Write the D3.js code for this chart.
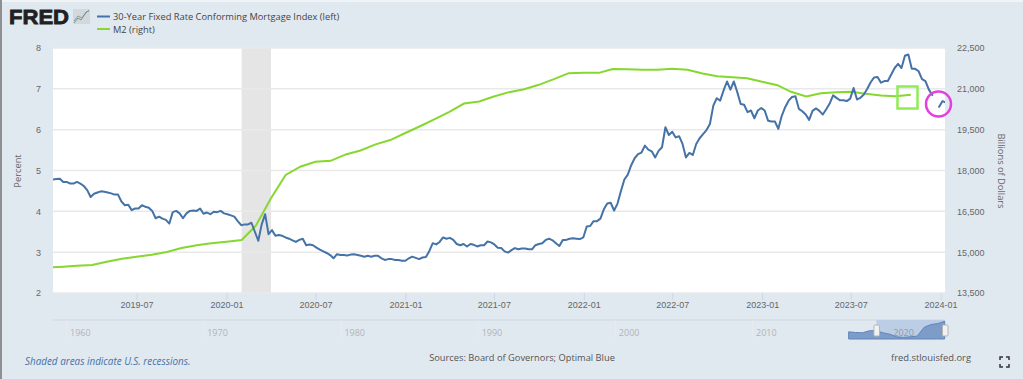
<!DOCTYPE html>
<html>
<head>
<meta charset="utf-8">
<script src="https://cdnjs.cloudflare.com/ajax/libs/d3/7.8.5/d3.min.js"></script>
<style>
  html, body { margin: 0; padding: 0; background: #e1e9f0; overflow: hidden; }
  svg { display: block; font-family: "Open Sans", sans-serif; }
  .tick text { fill: #666; font-size: 9px; }
  .domain { display: none; }
</style>
</head>
<body>
<svg width="1023" height="379"></svg>
<script>
// 30-year rate, one reading per week from the start date (null = gap in the line)
const mortgageStart = '2019-01-11'
const mortgage = [
  4.78,4.79,4.80,4.72,4.72,4.68,4.68,4.72,4.68,4.62,4.52,4.35,4.43,4.46,4.49,4.48,4.46,4.44,4.41,4.41,
  4.24,4.15,4.16,4.03,4.07,4.07,4.15,4.11,4.09,4.01,3.83,3.87,3.82,3.79,3.70,3.98,4.01,3.95,3.83,3.95,
  4.01,4.02,4.01,4.07,3.94,3.97,3.93,3.99,3.98,4.01,3.95,3.93,3.90,3.87,3.76,3.66,3.68,3.68,3.72,3.50,
  3.28,3.68,3.93,3.44,3.54,3.40,3.42,3.40,3.36,3.33,3.29,3.25,3.30,3.33,3.17,3.19,3.17,3.11,3.06,3.02,
  2.98,2.93,2.85,2.95,2.93,2.93,2.92,2.94,2.95,2.93,2.91,2.89,2.91,2.89,2.91,2.91,2.85,2.81,2.83,2.83,
  2.81,2.81,2.79,2.79,2.85,2.89,2.86,2.83,2.87,2.88,3.03,3.22,3.19,3.25,3.36,3.33,3.35,3.30,3.20,3.17,
  3.20,3.14,3.20,3.18,3.14,3.17,3.17,3.26,3.24,3.19,3.11,3.10,3.02,2.99,3.05,3.10,3.07,3.09,3.09,3.07,
  3.07,3.17,3.20,3.22,3.30,3.33,3.29,3.22,3.15,3.30,3.30,3.33,3.34,3.33,3.32,3.36,3.63,3.64,3.76,3.76,
  3.82,4.05,4.19,4.21,4.02,4.19,4.50,4.78,4.90,5.13,5.30,5.40,5.44,5.61,5.51,5.47,5.32,5.48,5.57,6.06,
  5.87,5.95,5.81,5.84,5.65,5.32,5.43,5.38,5.65,5.79,5.89,5.99,6.14,6.59,6.77,6.71,6.96,7.18,6.98,7.18,
  6.92,6.63,6.61,6.43,6.47,6.28,6.47,6.53,6.47,6.22,6.20,6.20,6.02,6.34,6.55,6.71,6.80,6.82,6.51,6.45,
  6.37,6.24,6.46,6.52,6.46,6.37,6.50,6.64,6.84,6.78,6.72,6.72,6.70,6.76,7.02,6.74,6.78,6.86,7.00,7.16,
  7.28,7.29,7.15,7.19,7.19,7.35,7.51,7.61,7.51,7.81,7.84,7.49,7.49,7.43,7.24,7.19,6.98,6.85,null,6.56,
  6.70,6.66
]

// M2, monthly
const m2Dates = [
  '2019-01','2019-02','2019-03','2019-04','2019-05','2019-06','2019-07','2019-08','2019-09','2019-10','2019-11','2019-12',
  '2020-01','2020-02','2020-03','2020-04','2020-05','2020-06','2020-07','2020-08','2020-09','2020-10','2020-11','2020-12',
  '2021-01','2021-02','2021-03','2021-04','2021-05','2021-06','2021-07','2021-08','2021-09','2021-10','2021-11','2021-12',
  '2022-01','2022-02','2022-03','2022-04','2022-05','2022-06','2022-07','2022-08','2022-09','2022-10','2022-11','2022-12',
  '2023-01','2023-02','2023-03','2023-04','2023-05','2023-06','2023-07','2023-08','2023-09','2023-10','2023-11'
]
const m2 = [
  14430,14467,14505,14530,14650,14760,14835,14908,15007,15154,15253,15326,
  15386,15448,15973,16980,17835,18147,18319,18356,18590,18737,18960,19119,
  19377,19635,19880,20155,20461,20535,20718,20878,20988,21147,21355,21575,
  21587,21587,21725,21722,21698,21698,21734,21698,21563,21465,21428,21392,
  21257,21135,20890,20718,20841,20878,20890,20816,20755,20730,20780
]

// navigator overview
const navDates = ['2017-01','2017-07','2018-01','2018-07','2019-01','2019-07','2020-01','2020-07','2021-01','2021-07','2022-01','2022-07','2023-01','2023-07','2024-01']
const navValues = [4.53,4.33,4.23,4.84,4.94,4.23,3.8,3.0,2.8,3.0,3.2,5.9,6.8,7.1,7.8]
const navYears = ['1960','1970','1980','1990','2000','2010','2020']

const xTicks = ['2019-07','2020-01','2020-07','2021-01','2021-07','2022-01','2022-07','2023-01','2023-07','2024-01']
const leftTicks = [2,3,4,5,6,7,8]
const rightTicks = [13500,15000,16500,18000,19500,21000,22500]
const recession = ['2020-02','2020-04']

const svg = d3.select('svg')
const parseMonth = d3.utcParse('%Y-%m')
const parseDay = d3.utcParse('%Y-%m-%d')
const parseYear = d3.utcParse('%Y')

const margin = {top: 48, right: 78, bottom: 86, left: 53}
const w = +svg.attr('width')
const h = +svg.attr('height')
const bottom = h - margin.bottom
const right = w - margin.right

const xScale = d3.scaleUtc()
  .domain([parseDay('2019-01-11'), parseDay('2024-01-10')])
  .range([margin.left, right])
const yLeft = d3.scaleLinear().domain([2, 8]).range([bottom, margin.top])
const yRight = d3.scaleLinear().domain([13500, 22500]).range([bottom, margin.top])

// frame strips
svg.append('rect').attr('width', w).attr('height', 2).attr('fill', '#f1f4f7')
svg.append('rect').attr('width', 2).attr('height', h).attr('fill', '#8d8f92')

svg.append('clipPath').attr('id', 'plot').append('rect')
  .attr('x', margin.left).attr('y', margin.top)
  .attr('width', right - margin.left).attr('height', bottom - margin.top)

svg.append('rect')
  .attr('x', margin.left).attr('y', margin.top)
  .attr('width', right - margin.left).attr('height', bottom - margin.top)
  .attr('fill', '#fff')

svg.append('rect')
  .attr('x', xScale(parseMonth(recession[0])))
  .attr('y', margin.top)
  .attr('width', xScale(parseMonth(recession[1])) - xScale(parseMonth(recession[0])))
  .attr('height', bottom - margin.top)
  .attr('fill', '#e5e5e5')

svg.append('g').selectAll('line').data(leftTicks).enter().append('line')
  .attr('x1', margin.left).attr('x2', right)
  .attr('y1', d => yLeft(d)).attr('y2', d => yLeft(d))
  .attr('stroke', '#e9e9e9').attr('stroke-width', 1.5)

// axes
svg.append('g')
  .attr('transform', `translate(0, ${bottom})`)
  .call(d3.axisBottom(xScale)
    .tickValues(xTicks.map(parseMonth))
    .tickFormat(d3.utcFormat('%Y-%m'))
    .tickSize(7).tickPadding(2))
  .call(g => g.selectAll('.tick line').attr('stroke', '#ccd6eb'))

svg.append('g')
  .attr('transform', `translate(${margin.left - 12}, 0)`)
  .call(d3.axisLeft(yLeft).tickValues(leftTicks).tickFormat(d3.format('d')).tickSize(0).tickPadding(0))

svg.append('g')
  .attr('transform', `translate(${right + 8}, 0)`)
  .call(d3.axisRight(yRight).tickValues(rightTicks).tickFormat(d3.format(',')).tickSize(0).tickPadding(4))

svg.append('text').text('Percent')
  .attr('transform', `translate(21, 171) rotate(-90)`)
  .attr('text-anchor', 'middle').attr('fill', '#666').attr('font-size', 9.3)

svg.append('text').text('Billions of Dollars')
  .attr('transform', `translate(998, 171) rotate(90)`)
  .attr('text-anchor', 'middle').attr('fill', '#666').attr('font-size', 9.3)

// series
const start = parseDay(mortgageStart)
const mortgageData = mortgage.map((v, i) => ({date: d3.utcDay.offset(start, i * 7), v}))
const m2Data = m2.map((v, i) => ({date: parseMonth(m2Dates[i]), v}))

const plot = svg.append('g').attr('clip-path', 'url(#plot)')

plot.append('path').datum(m2Data)
  .attr('fill', 'none').attr('stroke', '#86d72f').attr('stroke-width', 2)
  .attr('d', d3.line().x(d => xScale(d.date)).y(d => yRight(d.v)))

plot.append('path').datum(mortgageData)
  .attr('fill', 'none').attr('stroke', '#4572a7').attr('stroke-width', 2)
  .attr('stroke-linejoin', 'round').attr('stroke-linecap', 'round')
  .attr('d', d3.line().defined(d => d.v !== null).x(d => xScale(d.date)).y(d => yLeft(d.v)))

// annotations drawn over the chart
svg.append('rect')
  .attr('x', 897.5).attr('y', 86.5).attr('width', 20).attr('height', 22)
  .attr('fill', 'none').attr('stroke', '#8eec55').attr('stroke-width', 2.5)
svg.append('circle')
  .attr('cx', 938.5).attr('cy', 104).attr('r', 12.5)
  .attr('fill', 'none').attr('stroke', '#e43fe0').attr('stroke-width', 2.5)

// logo
svg.append('text').text('FRED')
  .attr('x', 9).attr('y', 24)
  .attr('font-family', '"Liberation Sans", Arial, sans-serif')
  .attr('font-weight', 700).attr('font-size', 20)
  .attr('textLength', 60).attr('lengthAdjust', 'spacingAndGlyphs')
  .attr('fill', '#231f20').attr('stroke', '#231f20').attr('stroke-width', 0.8)
svg.append('rect').attr('x', 73).attr('y', 9).attr('width', 17).attr('height', 15).attr('fill', '#d4d8dc')
svg.append('path').attr('d', 'M74 23L78 18L81 20L85 14L89 10')
  .attr('fill', 'none').attr('stroke', '#7d9a6a').attr('stroke-width', 1)
svg.append('path').attr('d', 'M74 21L78 16L82 18L86 12L89 11')
  .attr('fill', 'none').attr('stroke', '#6c8cb4').attr('stroke-width', 0.8)

// legend
const legendNames = ['30-Year Fixed Rate Conforming Mortgage Index (left)', 'M2 (right)']
const legendColors = ['#4572a7', '#86d72f']
const legend = svg.append('g').selectAll('g').data(legendNames).enter().append('g')
  .attr('transform', (d, i) => `translate(97, ${16.5 + i * 12.5})`)
legend.append('line').attr('x2', 13).attr('stroke', (d, i) => legendColors[i]).attr('stroke-width', 2)
legend.append('text').text(d => d)
  .attr('x', 16).attr('y', 3.5).attr('font-size', 9.3).attr('fill', '#444')

// navigator
const navTop = 320
const navBottom = 339
const xNav = d3.scaleUtc()
  .domain([parseYear('1960'), parseDay('2024-01-10')])
  .range([66.5, right])
const yNav = d3.scaleLinear().domain([2.3, 7.9]).range([navBottom, 321])

svg.append('line')
  .attr('x1', margin.left).attr('x2', right).attr('y1', navTop).attr('y2', navTop)
  .attr('stroke', '#d5dde5').attr('stroke-width', 1.5)

const navYearG = svg.append('g').selectAll('g').data(navYears).enter().append('g')
  .attr('transform', d => `translate(${xNav(parseYear(d))}, 0)`)
navYearG.append('line').attr('y1', navTop).attr('y2', navBottom).attr('stroke', '#e6ebf0')

const navData = navValues.map((v, i) => ({date: parseMonth(navDates[i]), v}))
const selStart = xScale.domain()[0]
svg.append('rect')
  .attr('x', xNav(selStart)).attr('y', navTop)
  .attr('width', xNav(xScale.domain()[1]) - xNav(selStart)).attr('height', navBottom - navTop)
  .attr('fill', '#bccde6')
svg.append('path').datum(navData)
  .attr('fill', '#7d9cc8').attr('stroke', '#5f86bb').attr('stroke-width', 1)
  .attr('d', d3.area().x(d => xNav(d.date)).y0(navBottom).y1(d => yNav(d.v)))

svg.append('g').selectAll('text').data(navYears).enter().append('text').text(d => d)
  .attr('x', d => xNav(parseYear(d)) + 3.5).attr('y', 336)
  .attr('font-size', 9).attr('fill', d => d === '2020' ? '#8f9aa8' : '#b0b4b8')

svg.append('g').selectAll('rect').data(xScale.domain()).enter().append('rect')
  .attr('x', d => xNav(d) - 2.5).attr('y', 325)
  .attr('width', 5.5).attr('height', 11).attr('rx', 1)
  .attr('fill', '#f2f2f2').attr('stroke', '#b5b5b5')

// footer
svg.append('text').text('Shaded areas indicate U.S. recessions.')
  .attr('x', 25).attr('y', 365).attr('font-size', 9.9)
  .attr('font-style', 'italic').attr('fill', '#4572a7')
svg.append('text').text('Sources: Board of Governors; Optimal Blue')
  .attr('x', 522).attr('y', 361).attr('text-anchor', 'middle')
  .attr('font-size', 9.3).attr('fill', '#555')
svg.append('text').text('fred.stlouisfed.org')
  .attr('x', 891).attr('y', 361).attr('font-size', 9.4).attr('fill', '#555')

// fullscreen icon
svg.append('path')
  .attr('d', 'M1000 360V357H1003M1006 357H1009V360M1009 364V367H1006M1003 367H1000V364')
  .attr('fill', 'none').attr('stroke', '#333').attr('stroke-width', 1.5)
</script>
</body>
</html>
